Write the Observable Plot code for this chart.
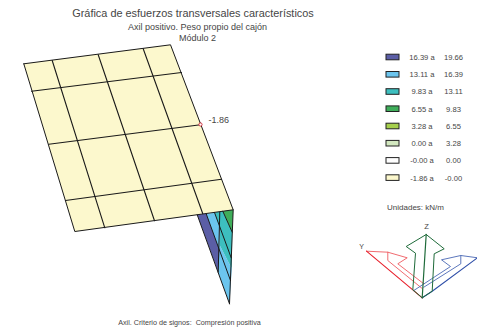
<!DOCTYPE html>
<html><head><meta charset="utf-8">
<script src="https://cdn.jsdelivr.net/npm/d3@7"></script>
<script src="https://cdn.jsdelivr.net/npm/@observablehq/plot@0.6"></script>
<style>html,body{margin:0;padding:0;background:#fff}svg{display:block}svg g[aria-label="text"]{opacity:.99}</style>
</head><body><div id="c"></div>
<script>
const plate=[[23.3,63.3],[170,44.3],[232.7,209.3],[74.3,231]];
const gridLines=[
 [[31,90.7],[181,72]],[[48.3,143.7],[200,124.3]],[[65,200],[221,178.7]],
 [[51.7,60],[104.3,227.3]],[[97.7,54.3],[154,220.3]],[[142.7,48.3],[202.3,213.3]]];
const wedgeBands=[
 {color:"#6cc5ee",pts:[[205.7,213.3],[219.3,211.7],[219.3,245],[231.3,268],[229,303.3],[217.7,271.7]]},
 {color:"#3dbfbf",pts:[[214,212],[222.3,210.7],[231.7,231.7],[231.3,268],[219.3,245],[219.3,226.7]]},
 {color:"#5b5ea6",pts:[[196.7,214.3],[205.7,213.3],[219,250],[217.7,271.7]]},
 {color:"#3fae5a",pts:[[222.3,210.7],[232.7,209.3],[231.7,231.7]]}];
const wedgeLines=[
 [[196.7,214.3],[229,303.3]],[[205.7,213.3],[230,280]],[[214,212],[230.7,257.3]],
 [[222.3,210.7],[231.7,231.7]],[[219.3,211.7],[217.7,271.7]],[[232.7,209.3],[229,303.3]]];
const legendFrom=["16.39 a","13.11 a","9.83 a","6.55 a","3.28 a","0.00 a","-0.00 a","-1.86 a"];
const legendTo=["19.66","16.39","13.11","9.83","6.55","3.28","0.00","-0.00"];
const legendColors=["#5b5ea6","#6cc5ee","#3dbfbf","#3fae5a","#a5cf4c","#d3e8c0","#ffffff","#fcf8cd"];
const legendY=[57,74.3,91.5,108.7,126,143.2,160.4,177.6];
const redMain=[[366,250.7],[412.3,289.3],[421.7,297.3]];
const redOuter=[[366,250.7],[387.3,251.7],[406.7,257.3],[397.3,263.3],[423.3,283.3]];
const redInner=[[387.3,251.7],[387.3,260],[421.7,288]];
const blueMain=[[477,257.3],[431.7,290.7],[421.7,297.3]];
const blueOuter=[[477,257.3],[460.3,255],[441,259.3],[450,266],[413.3,290]];
const blueInner=[[460.3,255],[460.3,263.3],[423.3,286.7]];
const greenOutline=[[425.7,234],[443.7,248.3],[433.7,253.3],[431.7,290.7],[421.7,297.3],[412.3,289.3],[415,252.7],[405.7,246],[425.7,234]];
const greenAxis=[[425.7,234],[421.7,297.3]];
const texts=[
 {x:192.5,y:13,t:"Gráfica de esfuerzos transversales característicos",s:10.9},
 {x:197,y:27,t:"Axil positivo. Peso propio del cajón",s:9},
 {x:197,y:38,t:"Módulo 2",s:9},
 {x:208,y:120,t:"-1.86",s:9,a:"start"},
 {x:189,y:322,t:"Axil. Criterio de signos:  Compresión positiva",s:7.2},
 {x:415,y:207,t:"Unidades: kN/m",s:8},
 {x:426,y:226,t:"Z",s:7.6},
 {x:361,y:246,t:"Y",s:7}];
const ink="#1a1a1a",txt="#444";
const seg=(p,o)=>Plot.line(p,{x:d=>d[0],y:d=>d[1],...o});
const marks=[
 seg(plate.concat([plate[0]]),{fill:"#fcf8cd",stroke:"none"}),
 ...wedgeBands.map(b=>seg(b.pts,{fill:b.color,stroke:"none"})),
 ...wedgeLines.map(l=>seg(l,{stroke:ink,strokeWidth:1})),
 seg(plate.concat([plate[0]]),{stroke:ink,strokeWidth:1}),
 ...gridLines.map(l=>seg(l,{stroke:ink,strokeWidth:1.1})),
 Plot.dot([[200,124]],{x:d=>d[0],y:d=>d[1],r:1.6,stroke:"#d62030",strokeWidth:0.9,fill:"#fff"}),
 Plot.rect(legendY.map((y,i)=>({y,c:legendColors[i]})),{x1:386,x2:399,y1:d=>d.y-2.8,y2:d=>d.y+2.8,fill:d=>d.c,stroke:"#222",strokeWidth:1}),
 Plot.text(legendFrom.map((t,i)=>({t,y:legendY[i]})),{x:()=>421.5,y:d=>d.y,text:d=>d.t,fontSize:7.6,fill:txt,ariaLabel:"text"}),
 Plot.text(legendTo.map((t,i)=>({t,y:legendY[i]})),{x:()=>453,y:d=>d.y,text:d=>d.t,fontSize:7.6,fill:txt,ariaLabel:"text"}),
 seg(redOuter,{stroke:"#ee5a60",strokeWidth:0.9}),
 seg(redInner,{stroke:"#ee5a60",strokeWidth:0.9}),
 seg(redMain,{stroke:"#e8202c",strokeWidth:1.1}),
 seg(blueOuter,{stroke:"#4a68b4",strokeWidth:0.9}),
 seg(blueInner,{stroke:"#4a68b4",strokeWidth:0.9}),
 seg(blueMain,{stroke:"#2f4fa8",strokeWidth:1.1}),
 seg(greenOutline,{stroke:"#1f6b3a",strokeWidth:1}),
 seg(greenAxis,{stroke:"#1f6b3a",strokeWidth:1.2}),
 ...texts.map(t=>Plot.text([t],{x:"x",y:"y",text:"t",fontSize:t.s,textAnchor:t.a||"middle",fill:txt}))
];
const chart=Plot.plot({width:477,height:334,margin:0,
 x:{type:"linear",domain:[0,477],range:[0,477],axis:null},
 y:{type:"linear",domain:[0,334],range:[0,334],axis:null},
 style:{fontFamily:"'Liberation Sans',Arial,sans-serif",background:"#fff"},
 marks});
document.getElementById("c").appendChild(chart);
</script></body></html>
